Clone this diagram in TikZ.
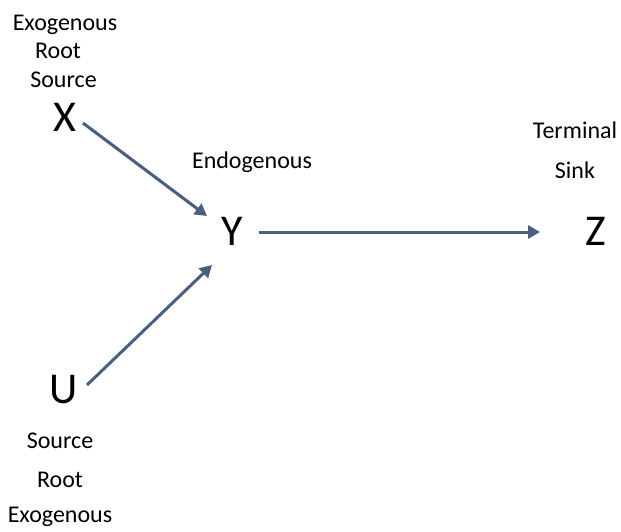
\documentclass[tikz,border=0pt]{standalone}
\usepackage{fontspec}
\setmainfont{Carlito}
\usetikzlibrary{arrows.meta}
\definecolor{edgeblue}{RGB}{74,94,125}
\tikzset{
  lbl/.style={font=\fontsize{24}{27}\selectfont, anchor=base, inner sep=0pt},
  var/.style={font=\fontsize{44}{48}\selectfont, anchor=base, inner sep=0pt},
  arr/.style={draw=edgeblue, line width=3pt, -{Triangle[length=12pt,width=13pt]}},
}
\begin{document}
\begin{tikzpicture}[x=1pt,y=-1pt]
\useasboundingbox (0,0) rectangle (621,531);
% variables
\node[var] (X) at (65,131) {X};
\node[var] (Y) at (232,245) {Y};
\node[var] (Z) at (596,245) {Z};
\node[var] (U) at (64,403) {U};
% labels above X
\node[lbl] (xl1) at (65,30) {Exogenous};
\node[lbl] (xl2) at (58,58) {Root};
\node[lbl] (xl3) at (63.5,87) {Source};
% label of Y
\node[lbl] (yl) at (252,168) {Endogenous};
% labels of Z
\node[lbl] (zl1) at (575,138) {Terminal};
\node[lbl] (zl2) at (575,178) {Sink};
% labels below U
\node[lbl] (ul1) at (60,448) {Source};
\node[lbl] (ul2) at (60,487) {Root};
\node[lbl] (ul3) at (60,522) {Exogenous};
% edges
\draw[arr] ([shift={(18,-8)}]X.base) -- ([shift={(-25,-29)}]Y.base);
\draw[arr] ([shift={(23,-18)}]U.base) -- ([shift={(-20,20)}]Y.base);
\draw[arr] ([shift={(27,-13)}]Y.base) -- ([shift={(-56,-13)}]Z.base);
\end{tikzpicture}
\end{document}
